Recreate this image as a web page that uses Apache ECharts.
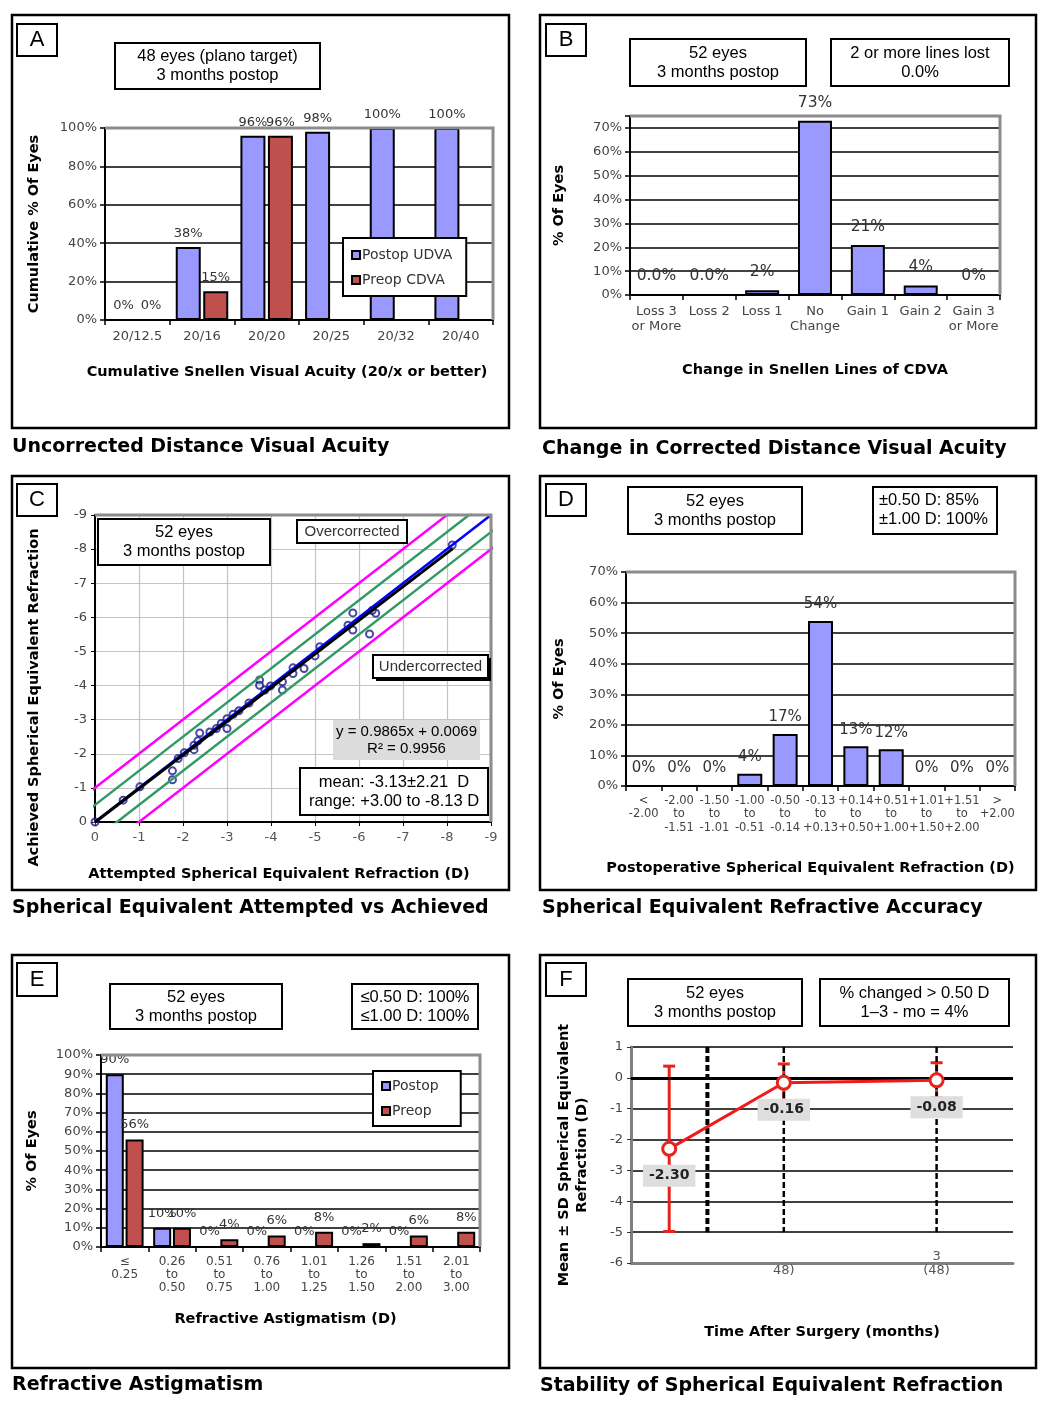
<!DOCTYPE html>
<html>
<head>
<meta charset="utf-8">
<script src="https://cdn.jsdelivr.net/npm/echarts@6/dist/echarts.min.js"></script>
<style>
  html, body { margin: 0; padding: 0; background: #fff; }
  #main { width: 1051px; height: 1408px; }
</style>
</head>
<body>
<div id="main"></div>
<script>
// A - uncorrected distance visual acuity
var catsA = ['20/12.5', '20/16', '20/20', '20/25', '20/32', '20/40'];
var postopUdvaA = [0, 38, 96, 98, 100, 100];
var preopCdvaA = [0, 15, 96, null, null, null];

// B - change in CDVA
var catsB = ['Loss 3\nor More', 'Loss 2', 'Loss 1', 'No\nChange', 'Gain 1', 'Gain 2', 'Gain 3\nor More'];
var changeB = [0, 0, 2, 73, 21, 4, 0];
var labelsB = ['0.0%', '0.0%', '2%', '73%', '21%', '4%', '0%'];

// C - attempted vs achieved
var attemptedC = [0, -0.64, -1.02, -1.76, -1.76, -1.89, -2.03, -2.25, -2.25, -2.34, -2.38, -2.61, -2.76, -2.87, -3.0, -3.0,
  -3.14, -3.27, -3.5, -3.74, -3.74, -3.86, -3.99, -4.26, -4.26, -4.5, -4.5, -4.75, -5.0, -5.11, -5.75, -5.86, -5.86,
  -6.24, -6.38, -6.3, -8.12];
var achievedC = [0, -0.64, -1.03, -1.50, -1.24, -1.86, -2.03, -2.12, -2.25, -2.38, -2.61, -2.64, -2.74, -2.89, -3.03, -2.74,
  -3.16, -3.26, -3.49, -4.16, -4.01, -3.87, -3.99, -4.11, -3.87, -4.52, -4.35, -4.50, -4.87, -5.14, -5.77, -6.13, -5.63,
  -5.51, -6.12, -6.2, -8.12];
var fitSlope = 0.9865, fitIntercept = 0.0069;
var fitRange = [0, -8.13];
var bandOffsets = [-0.5, 0.5];
var limitOffsets = [-1, 1];

// D - refractive accuracy
var catsD = ['<\n-2.00', '-2.00\nto\n-1.51', '-1.50\nto\n-1.01', '-1.00\nto\n-0.51', '-0.50\nto\n-0.14', '-0.13\nto\n+0.13',
  '+0.14\nto\n+0.50', '+0.51\nto\n+1.00', '+1.01\nto\n+1.50', '+1.51\nto\n+2.00', '>\n+2.00'];
var accuracyD = [0, 0, 0, 4, 17, 54, 13, 12, 0, 0, 0];

// E - refractive astigmatism
var catsE = ['\u2264\n0.25', '0.26\nto\n0.50', '0.51\nto\n0.75', '0.76\nto\n1.00', '1.01\nto\n1.25', '1.26\nto\n1.50', '1.51\nto\n2.00', '2.01\nto\n3.00'];
var postopE = [90, 10, 0, 0, 0, 0, 0, null];
var preopE = [56, 10, 4, 6, 8, 2, 6, 8];

// F - stability (months)
var timeF = [-0.5, 1, 3];
var meanF = [-2.30, -0.16, -0.08];
var sdF = [2.68, 0.61, 0.57];
var dividerTimes = [0, 1, 3];
var dividerRange = [1, -5];

var BLUE = '#9999ff', RED = '#c0504d';
var tickFont = 'DejaVu Sans', boxFont = 'Liberation Sans';

var grids = [
  { left: 105, top: 128, width: 388, height: 192 },
  { left: 630, top: 116, width: 370, height: 179 },
  { left: 95, top: 515, width: 396, height: 307 },
  { left: 626, top: 572, width: 389, height: 214 },
  { left: 101, top: 1055, width: 379, height: 192 },
  { left: 631, top: 1047, width: 382, height: 216 }
];

function nameStyle(pad) {
  return { fontFamily: tickFont, fontWeight: 'bold', fontSize: 14.5, color: '#000', padding: pad || 0, lineHeight: 18 };
}
function catAxis(gi, data, labelOpt, name, gap, pad) {
  return {
    type: 'category', gridIndex: gi, data: data,
    axisLine: { lineStyle: { color: '#000', width: 2 } },
    axisTick: { show: true, length: 5, lineStyle: { color: '#000', width: 1.5 } },
    axisLabel: Object.assign({ interval: 0, fontFamily: tickFont, fontSize: 13, color: '#444', margin: 9 }, labelOpt || {}),
    name: name, nameLocation: 'middle', nameGap: gap, nameTextStyle: nameStyle(pad)
  };
}
function valAxis(gi, min, max, interval, fmt, name, gap, extra) {
  return Object.assign({
    type: 'value', gridIndex: gi, min: min, max: max, interval: interval,
    axisLine: { show: true, lineStyle: { color: '#000', width: 2 } },
    axisTick: { show: true, length: 5, lineStyle: { color: '#000', width: 1.5 } },
    axisLabel: { formatter: fmt, fontFamily: tickFont, fontSize: 13, color: '#444', margin: 8 },
    splitLine: { lineStyle: { color: '#000', width: 1.5 } },
    name: name, nameLocation: 'middle', nameGap: gap, nameTextStyle: nameStyle()
  }, extra || {});
}
function pct(v) { return v % 10 === 0 ? v + '%' : ''; }

function barLabel(size, dist, fmt) {
  return { show: true, position: 'top', distance: dist, fontFamily: tickFont, fontSize: size, color: '#333', formatter: fmt || '{c}%' };
}

// graphic helpers
var graphics = [];
function rect(x, y, w, h, style) {
  graphics.push({ type: 'rect', z: 100, shape: { x: x, y: y, width: w, height: h },
    style: Object.assign({ fill: '#fff', stroke: '#000', lineWidth: 2 }, style || {}) });
}
function text(x, y, str, style) {
  graphics.push({ type: 'text', z: 101, x: x, y: y,
    style: Object.assign({ text: str, fill: '#000', fontFamily: boxFont, fontSize: 16.5, lineHeight: 19,
      textAlign: 'center', textVerticalAlign: 'middle' }, style || {}) });
}
function textBox(x, y, w, h, str, style, boxStyle) {
  rect(x, y, w, h, boxStyle);
  text(x + w / 2, y + h / 2, str, style);
}
function frame(x, y, w, h) {
  graphics.push({ type: 'rect', z: 99, shape: { x: x, y: y, width: w, height: h },
    style: { fill: 'none', stroke: '#000', lineWidth: 2.5 } });
}
function title(x, y, str) {
  text(x, y, str, { fontFamily: tickFont, fontWeight: 'bold', fontSize: 19, textAlign: 'left' });
}
function plotBorder(g) {
  graphics.push({ type: 'polyline', z: 98, shape: { points: [[g.left, g.top], [g.left + g.width, g.top], [g.left + g.width, g.top + g.height]] },
    style: { stroke: '#8c8c8c', lineWidth: 3, fill: 'none' } });
}

// panel frames and titles
frame(12, 15, 497, 413); frame(540, 15, 496, 413);
frame(12, 476, 497, 414); frame(540, 476, 496, 414);
frame(12, 955, 497, 413); frame(540, 955, 496, 413);
title(12, 447, 'Uncorrected Distance Visual Acuity');
title(542, 449, 'Change in Corrected Distance Visual Acuity');
title(12, 908, 'Spherical Equivalent Attempted vs Achieved');
title(542, 908, 'Spherical Equivalent Refractive Accuracy');
title(12, 1385, 'Refractive Astigmatism');
title(540, 1386, 'Stability of Spherical Equivalent Refraction');

grids.forEach(function (g, i) { if (i !== 5) plotBorder(g); });

// letters
var letterStyle = { fontSize: 22 };
textBox(17, 24, 40, 32, 'A', letterStyle);
textBox(546, 24, 40, 32, 'B', letterStyle);
textBox(17, 484, 40, 32, 'C', letterStyle);
textBox(546, 484, 40, 32, 'D', letterStyle);
textBox(17, 963, 40, 33, 'E', letterStyle);
textBox(546, 963, 40, 33, 'F', letterStyle);

// info boxes
textBox(115, 43, 205, 46, '48 eyes (plano target)\n3 months postop');
textBox(630, 39, 176, 47, '52 eyes\n3 months postop');
textBox(831, 39, 178, 47, '2 or more lines lost\n0.0%');
textBox(98, 519, 172, 46, '52 eyes\n3 months postop');
textBox(297, 520, 110, 23, 'Overcorrected', { fontSize: 15, fill: '#333' });
rect(376, 658, 115, 23, { fill: '#000', stroke: 'none' });
textBox(373, 655, 115, 23, 'Undercorrected', { fontSize: 15, fill: '#333' });
textBox(333, 720, 147, 40, 'y = 0.9865x + 0.0069\nR\u00b2 = 0.9956', { fontSize: 15, lineHeight: 17 }, { fill: '#dcdcdc', stroke: 'none' });
textBox(300, 768, 188, 47, 'mean: -3.13\u00b12.21  D\nrange: +3.00 to -8.13 D', { fontSize: 16.5 });
textBox(628, 487, 174, 47, '52 eyes\n3 months postop');
rect(873, 487, 124, 47);
text(879, 510, '\u00b10.50 D: 85%\n\u00b11.00 D: 100%', { textAlign: 'left' });
textBox(110, 984, 172, 45, '52 eyes\n3 months postop');
textBox(352, 984, 126, 45, '\u22640.50 D: 100%\n\u22641.00 D: 100%');
textBox(628, 979, 174, 47, '52 eyes\n3 months postop');
textBox(820, 979, 189, 47, '% changed > 0.50 D\n1\u20133 - mo = 4%');

var legendBase = {
  orient: 'vertical', icon: 'rect', itemWidth: 8, itemHeight: 8, itemGap: 11,
  borderColor: '#000', borderWidth: 2, backgroundColor: '#fff', z: 50,
  textStyle: { fontFamily: tickFont, fontSize: 14, color: '#333', padding: [0, 0, 0, -3] }
};

var scatterC = attemptedC.map(function (a, i) { return [a, achievedC[i]]; });
function offsetLine(off) { return [[1, 1 + off], [-10, -10 + off]]; }
var fitC = fitRange.map(function (x) { return [x, fitSlope * x + fitIntercept]; });

var refLineC = { type: 'line', xAxisIndex: 2, yAxisIndex: 2, symbol: 'none', silent: true, clip: true };

var series = [
  // A
  { type: 'bar', name: 'Postop UDVA', xAxisIndex: 0, yAxisIndex: 0, data: postopUdvaA, barWidth: 25, barGap: '10%',
    itemStyle: { color: BLUE, borderColor: '#000', borderWidth: 2 }, label: barLabel(13, 7) },
  { type: 'bar', name: 'Preop CDVA', xAxisIndex: 0, yAxisIndex: 0, data: preopCdvaA, barWidth: 25, barGap: '10%',
    itemStyle: { color: RED, borderColor: '#000', borderWidth: 2 }, label: barLabel(13, 7) },
  // B
  { type: 'bar', xAxisIndex: 1, yAxisIndex: 1, data: changeB, barWidth: 34,
    itemStyle: { color: BLUE, borderColor: '#000', borderWidth: 2 },
    label: barLabel(15.5, 10, function (p) { return labelsB[p.dataIndex]; }) },
  // C
  Object.assign({}, refLineC, { data: [[0, 0], [-9, -9]], lineStyle: { color: '#0000ff', width: 2.5 } }),
  Object.assign({}, refLineC, { data: offsetLine(bandOffsets[0]), lineStyle: { color: '#339966', width: 2.5 } }),
  Object.assign({}, refLineC, { data: offsetLine(bandOffsets[1]), lineStyle: { color: '#339966', width: 2.5 } }),
  Object.assign({}, refLineC, { data: offsetLine(limitOffsets[0]), lineStyle: { color: '#ff00ff', width: 2.5 } }),
  Object.assign({}, refLineC, { data: offsetLine(limitOffsets[1]), lineStyle: { color: '#ff00ff', width: 2.5 } }),
  Object.assign({}, refLineC, { data: fitC, lineStyle: { color: '#000', width: 3 } }),
  { type: 'scatter', xAxisIndex: 2, yAxisIndex: 2, data: scatterC, symbol: 'circle', symbolSize: 7,
    itemStyle: { color: 'rgba(255,255,255,0.3)', borderColor: '#1a1a8a', borderWidth: 2 } },
  // D
  { type: 'bar', xAxisIndex: 3, yAxisIndex: 3, data: accuracyD, barWidth: 25,
    itemStyle: { color: BLUE, borderColor: '#000', borderWidth: 2 }, label: barLabel(15, 9) },
  // E
  { type: 'bar', name: 'Postop', xAxisIndex: 4, yAxisIndex: 4, data: postopE, barWidth: 18, barGap: '10%',
    itemStyle: { color: BLUE, borderColor: '#000', borderWidth: 2 }, label: barLabel(13, 8) },
  { type: 'bar', name: 'Preop', xAxisIndex: 4, yAxisIndex: 4, data: preopE, barWidth: 18, barGap: '10%',
    itemStyle: { color: RED, borderColor: '#000', borderWidth: 2 }, label: barLabel(13, 8) }
];

// F dividers
dividerTimes.forEach(function (t, i) {
  series.push({ type: 'line', xAxisIndex: 5, yAxisIndex: 5, symbol: 'none', silent: true,
    data: dividerRange.map(function (v) { return [t, v]; }),
    lineStyle: { color: '#000', width: i === 0 ? 4 : 2.5, type: [6, 3] } });
});
// F error bars
series.push({
  type: 'custom', xAxisIndex: 5, yAxisIndex: 5, silent: true,
  data: timeF.map(function (t, i) { return [t, meanF[i] - sdF[i], meanF[i] + sdF[i]]; }),
  renderItem: function (params, api) {
    var lo = api.coord([api.value(0), api.value(1)]);
    var hi = api.coord([api.value(0), api.value(2)]);
    var s = { stroke: '#e8231e', lineWidth: 3 };
    return { type: 'group', children: [
      { type: 'line', shape: { x1: lo[0], y1: lo[1], x2: hi[0], y2: hi[1] }, style: s },
      { type: 'line', shape: { x1: hi[0] - 6, y1: hi[1], x2: hi[0] + 6, y2: hi[1] }, style: s },
      { type: 'line', shape: { x1: lo[0] - 6, y1: lo[1], x2: lo[0] + 6, y2: lo[1] }, style: s }
    ] };
  }
});
// F mean line
series.push({
  type: 'line', xAxisIndex: 5, yAxisIndex: 5, z: 5,
  data: timeF.map(function (t, i) { return [t, meanF[i]]; }),
  symbol: 'circle', symbolSize: 13,
  lineStyle: { color: '#f01a1a', width: 3 },
  itemStyle: { color: '#fff', borderColor: '#e8231e', borderWidth: 3 },
  label: { show: true, position: 'bottom', distance: 8, fontFamily: tickFont, fontWeight: 'bold', fontSize: 14,
    color: '#222', backgroundColor: '#dedede', padding: [4, 6],
    formatter: function (p) { return p.value[1].toFixed(2); } },
  markLine: { silent: true, symbol: 'none', label: { show: false }, lineStyle: { color: '#000', width: 3, type: 'solid' },
    data: [{ yAxis: 0 }] }
});

var myChart = echarts.init(document.getElementById('main'));
myChart.setOption({
  backgroundColor: '#fff',
  animation: false,
  tooltip: { show: false },
  grid: grids,
  legend: [
    Object.assign({}, legendBase, { data: ['Postop UDVA', 'Preop CDVA'], left: 343, top: 238, padding: [10, 14, 9, 8] }),
    Object.assign({}, legendBase, { data: ['Postop', 'Preop'], left: 373, top: 1071, padding: [8, 22, 8, 8] })
  ],
  xAxis: [
    catAxis(0, catsA, { margin: 10 }, 'Cumulative Snellen Visual Acuity (20/x or better)', 43, [0, 24, 0, 0]),
    catAxis(1, catsB, { lineHeight: 15, margin: 9 }, 'Change in Snellen Lines of CDVA', 66),
    {
      type: 'value', gridIndex: 2, min: -9, max: 0, interval: 1, inverse: true,
      axisLine: { show: true, onZero: false, lineStyle: { color: '#000', width: 2 } },
      axisTick: { show: true, length: 4, lineStyle: { color: '#000' } },
      axisLabel: { fontFamily: tickFont, fontSize: 13, color: '#555', margin: 9 },
      splitLine: { lineStyle: { color: '#c4c4c4', width: 1.2 } },
      name: 'Attempted Spherical Equivalent Refraction (D)', nameLocation: 'middle', nameGap: 43,
      nameTextStyle: nameStyle([0, 28, 0, 0])
    },
    catAxis(3, catsD, { fontSize: 11.5, lineHeight: 13.5, margin: 8 }, 'Postoperative Spherical Equivalent Refraction (D)', 73, [0, 20, 0, 0]),
    catAxis(4, catsE, { fontSize: 12, lineHeight: 13, margin: 8 }, 'Refractive Astigmatism (D)', 63, [0, 10, 0, 0]),
    {
      type: 'value', gridIndex: 5, min: -1, max: 4, interval: 1,
      axisLine: { show: true, onZero: false, lineStyle: { color: '#808080', width: 3 } },
      axisTick: { show: false },
      axisLabel: { fontFamily: tickFont, fontSize: 13, color: '#555', margin: -13, lineHeight: 14,
        formatter: function (v) { return v === 1 ? '\n48)' : (v === 3 ? '3\n(48)' : ''); } },
      splitLine: { show: false },
      name: 'Time After Surgery (months)', nameLocation: 'middle', nameGap: 60, nameTextStyle: nameStyle()
    }
  ],
  yAxis: [
    valAxis(0, 0, 100, 20, '{value}%', 'Cumulative % Of Eyes', 62),
    valAxis(1, 0, 75, 10, pct, '% Of Eyes', 62),
    valAxis(2, -9, 0, 1, '{value}', 'Achieved Spherical Equivalent Refraction', 52, {
      inverse: true,
      axisLine: { show: true, onZero: false, lineStyle: { color: '#000', width: 2 } },
      axisTick: { show: true, length: 4, lineStyle: { color: '#000' } },
      splitLine: { lineStyle: { color: '#c4c4c4', width: 1.2 } },
      nameTextStyle: nameStyle([0, 58, 0, 0])
    }),
    valAxis(3, 0, 70, 10, '{value}%', '% Of Eyes', 58),
    valAxis(4, 0, 100, 10, '{value}%', '% Of Eyes', 60),
    valAxis(5, -6, 1, 1, '{value}', 'Mean \u00b1 SD Spherical Equivalent\nRefraction (D)', 40, {
      axisLine: { show: true, onZero: false, lineStyle: { color: '#808080', width: 3 } },
      axisTick: { show: true, length: 4, lineStyle: { color: '#333' } }
    })
  ],
  graphic: { elements: graphics },
  series: series
});
</script>
</body>
</html>
